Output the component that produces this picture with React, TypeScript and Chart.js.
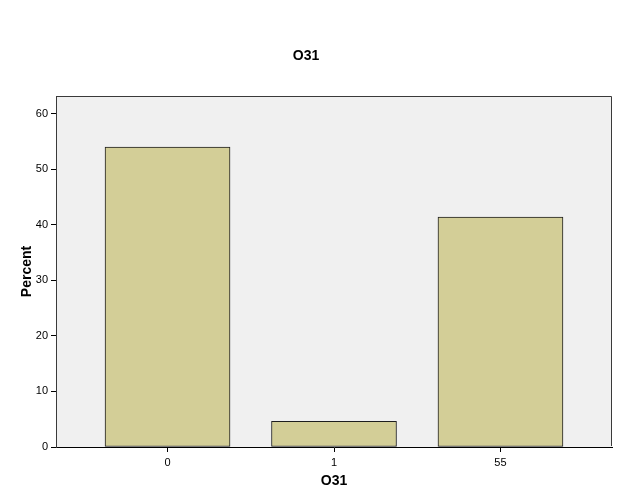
import React, { useEffect, useRef } from "react";
import { Chart, registerables } from "chart.js";

Chart.register(...registerables);

const categories = ["0", "1", "55"];
const percents = [54.0, 4.6, 41.4];
const yTicks = [0, 10, 20, 30, 40, 50, 60];
const chartTitle = "O31";
const xTitle = "O31";
const yTitle = "Percent";

const FONT = "Arial, 'Liberation Sans', sans-serif";

const panelPlugin = {
  id: "panel",
  beforeDraw(chart: any) {
    const { ctx, chartArea } = chart;
    ctx.save();
    ctx.fillStyle = "#ffffff";
    ctx.fillRect(0, 0, chart.width, chart.height);
    ctx.fillStyle = "#f0f0f0";
    ctx.fillRect(chartArea.left, chartArea.top, chartArea.right - chartArea.left, chartArea.bottom - chartArea.top);
    ctx.restore();
  },
  beforeDatasetsDraw(chart: any) {
    const { ctx, chartArea } = chart;
    const l = Math.round(chartArea.left) + 0.5;
    const r = Math.round(chartArea.right) - 0.5;
    const t = Math.round(chartArea.top) + 0.5;
    const b = Math.round(chartArea.bottom) - 1;
    ctx.save();
    ctx.strokeStyle = "#3a3a3a";
    ctx.lineWidth = 1;
    ctx.beginPath();
    ctx.moveTo(l, b);
    ctx.lineTo(l, t);
    ctx.lineTo(r, t);
    ctx.lineTo(r, b);
    ctx.stroke();
    ctx.restore();
  },
};

export default function App() {
  const ref = useRef<HTMLCanvasElement | null>(null);
  useEffect(() => {
    if (!ref.current) return;
    const chart = new Chart(ref.current, {
      type: "bar",
      data: {
        datasets: [
          {
            data: percents.map((v, i) => ({ x: i, y: v })),
            backgroundColor: "#d3ce97",
            borderColor: "#1e1e1e",
            borderWidth: 1,
            borderSkipped: false,
            barThickness: 125,
          },
        ],
      },
      options: {
        responsive: false,
        animation: false,
        layout: { padding: { left: 0, right: 13, top: 0, bottom: 0 } },
        plugins: {
          legend: { display: false },
          tooltip: { enabled: false },
          title: {
            display: true,
            text: chartTitle,
            color: "#000",
            font: { family: FONT, size: 14, weight: "bold" },
            padding: { top: 47.6, bottom: 31.6 },
          },
        },
        scales: {
          x: {
            type: "linear",
            offset: false,
            min: -0.67,
            max: 2.67,
            afterBuildTicks: (scale: any) => {
              scale.ticks = categories.map((_, i) => ({ value: i }));
            },
            afterFit: (scale: any) => {
              scale.height = 52;
            },
            ticks: {
              callback: (v: any) => categories[v as number],
              color: "#000",
              font: { family: FONT, size: 11 },
              padding: 4,
              maxRotation: 0,
            },
            grid: {
              display: true,
              offset: false,
              drawOnChartArea: false,
              drawTicks: true,
              tickLength: 5,
              color: (c: any) =>
                c.tick && categories[c.tick.value as number] !== undefined ? "#000" : "rgba(0,0,0,0)",
            },
            border: { display: true, color: "#000", width: 1 },
            title: {
              display: true,
              text: xTitle,
              color: "#000",
              font: { family: FONT, size: 14, weight: "bold" },
              padding: { top: 2, bottom: 9.6 },
            },
          },
          y: {
            type: "linear",
            min: 0,
            max: 63.2,
            afterBuildTicks: (scale: any) => {
              scale.ticks = yTicks.map((v) => ({ value: v }));
            },
            afterFit: (scale: any) => {
              scale.width = 56;
            },
            ticks: {
              color: "#000",
              font: { family: FONT, size: 11 },
              padding: 3,
            },
            grid: {
              display: true,
              drawOnChartArea: false,
              drawTicks: true,
              tickLength: 5,
              color: "#000",
            },
            border: { display: true, color: "#3a3a3a", width: 1 },
            title: {
              display: true,
              text: yTitle,
              color: "#000",
              font: { family: FONT, size: 14, weight: "bold" },
              padding: { top: 18.6, bottom: 2 },
            },
          },
        },
      },
      plugins: [panelPlugin],
    });
    return () => chart.destroy();
  }, []);
  return (
    <canvas
      ref={ref}
      width={625}
      height={499}
      style={{ position: "absolute", left: 0, top: 0, display: "block", width: 625, height: 499 }}
    />
  );
}
